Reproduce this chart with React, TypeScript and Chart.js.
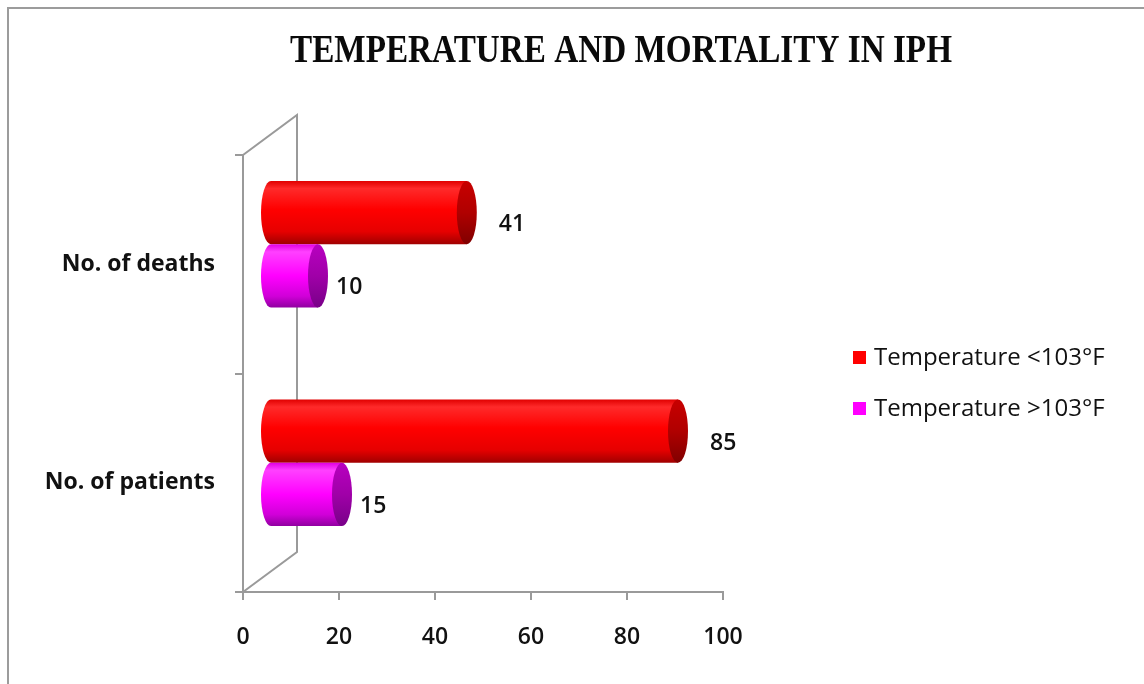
import React, { useEffect, useRef } from "react";
import { Chart, registerables } from "chart.js";

Chart.register(...registerables);

// ---- data ----
const chartTitle = "TEMPERATURE AND MORTALITY IN IPH";
const categories = ["No. of deaths", "No. of patients"];
const seriesNames = ["Temperature <103°F", "Temperature >103°F"];
const below103 = [41, 85];
const above103 = [10, 15];
const xTickValues = [0, 20, 40, 60, 80, 100];

// ---- styling ----
const FONT = '"Open Sans"';
const RED = "#FF0000";
const MAGENTA = "#FF00FF";
const AXIS_GREY = "#9a9a9a";
const DEPTH_X = 54; // horizontal shift of the back wall
const DEPTH_Y = -40; // vertical shift of the back wall
const CAP_RX = 10; // half-width of the cylinder end ellipses

const bodyStops: Record<string, [number, string][]> = {
  [RED]: [
    [0, "#e00000"],
    [0.12, "#ff2a2a"],
    [0.45, "#ff0000"],
    [0.8, "#e60000"],
    [1, "#a00000"],
  ],
  [MAGENTA]: [
    [0, "#e000e0"],
    [0.12, "#ff40ff"],
    [0.5, "#ff00ff"],
    [0.82, "#d000d8"],
    [1, "#9000a0"],
  ],
};
const capStops: Record<string, [number, string][]> = {
  [RED]: [
    [0, "#c80000"],
    [0.5, "#b00000"],
    [1, "#800000"],
  ],
  [MAGENTA]: [
    [0, "#b800c0"],
    [0.5, "#a000a8"],
    [1, "#780088"],
  ],
};

function vGradient(ctx: CanvasRenderingContext2D, top: number, bottom: number, stops: [number, string][]) {
  const g = ctx.createLinearGradient(0, top, 0, bottom);
  stops.forEach(([o, c]) => g.addColorStop(o, c));
  return g;
}

// frame of the 3-D box: side wall behind the category axis
const framePlugin = {
  id: "frame3d",
  beforeDraw(chart: any) {
    const { ctx, width, height } = chart;
    ctx.save();
    ctx.fillStyle = "#ffffff";
    ctx.fillRect(0, 0, width, height);
    ctx.strokeStyle = "#9c9c9c";
    ctx.lineWidth = 2;
    ctx.strokeRect(8, 8, width + 20, height + 20);
    ctx.restore();
  },
  beforeDatasetsDraw(chart: any) {
    const { ctx, chartArea } = chart;
    const x0 = chart.scales.x.getPixelForValue(0);
    const { top, bottom } = chartArea;
    ctx.save();
    ctx.strokeStyle = AXIS_GREY;
    ctx.lineWidth = 2;
    ctx.beginPath();
    ctx.moveTo(x0, top);
    ctx.lineTo(x0 + DEPTH_X, top + DEPTH_Y);
    ctx.lineTo(x0 + DEPTH_X, bottom + DEPTH_Y);
    ctx.lineTo(x0, bottom);
    ctx.stroke();
    ctx.restore();
  },
};

// cylinders drawn from the bar elements laid out by the scales
const cylinderPlugin = {
  id: "cylinders",
  afterDatasetsDraw(chart: any) {
    const { ctx } = chart;
    chart.data.datasets.forEach((ds: any, di: number) => {
      const meta = chart.getDatasetMeta(di);
      const color = ds.cylinderColor as string;
      meta.data.forEach((el: any, i: number) => {
        const { x, y, base, height } = el.getProps(["x", "y", "base", "height"], true);
        const r = height / 2;
        const cy = y + DEPTH_Y / 2;
        const xs = base + DEPTH_X / 2;
        const xe = x + DEPTH_X / 2;
        ctx.save();
        // body
        ctx.beginPath();
        ctx.moveTo(xe, cy - r);
        ctx.lineTo(xs, cy - r);
        ctx.ellipse(xs, cy, CAP_RX, r, 0, -Math.PI / 2, Math.PI / 2, true);
        ctx.lineTo(xe, cy + r);
        ctx.closePath();
        ctx.fillStyle = vGradient(ctx, cy - r, cy + r, bodyStops[color]);
        ctx.fill();
        // end cap
        ctx.beginPath();
        ctx.ellipse(xe, cy, CAP_RX, r, 0, 0, Math.PI * 2);
        ctx.fillStyle = vGradient(ctx, cy - r, cy + r, capStops[color]);
        ctx.fill();
        // value label
        ctx.fillStyle = "#111";
        ctx.font = `600 23px ${FONT}`;
        ctx.textAlign = "left";
        ctx.textBaseline = "middle";
        const gap = di === 0 ? 22 : 8;
        ctx.fillText(String(ds.data[i]), xe + CAP_RX + gap, y - 8);
        ctx.restore();
      });
    });
  },
  afterDraw(chart: any) {
    const { ctx } = chart;
    ctx.save();
    // title
    ctx.font = 'bold 40px "Liberation Serif"';
    const w = ctx.measureText(chartTitle).width;
    ctx.translate(621, 52);
    ctx.scale(662 / w, 1);
    ctx.fillStyle = "#0a0a0a";
    ctx.textAlign = "center";
    ctx.textBaseline = "middle";
    ctx.fillText(chartTitle, 0, 0);
    ctx.restore();

    // legend
    ctx.save();
    ctx.font = `24px ${FONT}`;
    ctx.textBaseline = "middle";
    ctx.textAlign = "left";
    chart.data.datasets.forEach((ds: any, di: number) => {
      const cy = 358 + di * 51;
      ctx.fillStyle = ds.cylinderColor;
      ctx.fillRect(853, cy - 7, 13, 13);
      ctx.fillStyle = "#111";
      ctx.fillText(ds.label, 874, cy);
    });
    ctx.restore();
  },
};

export default function App() {
  const canvasRef = useRef<HTMLCanvasElement | null>(null);

  useEffect(() => {
    if (!canvasRef.current) return;
    const chart = new Chart(canvasRef.current, {
      type: "bar",
      data: {
        labels: categories,
        datasets: [
          {
            label: seriesNames[0],
            data: below103,
            backgroundColor: "rgba(0,0,0,0)",
            cylinderColor: RED,
          } as any,
          {
            label: seriesNames[1],
            data: above103,
            backgroundColor: "rgba(0,0,0,0)",
            cylinderColor: MAGENTA,
          } as any,
        ],
      },
      options: {
        indexAxis: "y",
        animation: false,
        responsive: true,
        maintainAspectRatio: false,
        layout: { padding: { top: 155, right: 421, bottom: 0, left: 0 } },
        datasets: { bar: { categoryPercentage: 0.58, barPercentage: 1 } },
        plugins: {
          legend: { display: false },
          title: { display: false },
          tooltip: { enabled: false },
        },
        scales: {
          x: {
            type: "linear",
            min: xTickValues[0],
            max: xTickValues[xTickValues.length - 1],
            afterBuildTicks(scale: any) {
              scale.ticks = xTickValues.map((v) => ({ value: v }));
            },
            ticks: {
              color: "#111",
              font: { family: FONT, size: 23, weight: "600" },
              padding: 24,
            },
            grid: { drawOnChartArea: false, drawTicks: true, tickLength: 8, color: AXIS_GREY, lineWidth: 2 },
            border: { color: AXIS_GREY, width: 2 },
            afterFit(scale: any) {
              scale.height = 92;
            },
          },
          y: {
            type: "category",
            ticks: {
              color: "#111",
              font: { family: FONT, size: 23, weight: "bold" },
              padding: 20,
            },
            grid: { drawOnChartArea: false, drawTicks: true, tickLength: 8, color: AXIS_GREY, lineWidth: 2, offset: true },
            border: { color: AXIS_GREY, width: 2 },
            afterFit(scale: any) {
              scale.width = 243;
            },
          },
        },
      },
      plugins: [framePlugin, cylinderPlugin],
    } as any);
    return () => chart.destroy();
  }, []);

  return (
    <div style={{ position: "absolute", left: 0, top: 0, width: 1144, height: 684 }}>
      <canvas ref={canvasRef} />
    </div>
  );
}
